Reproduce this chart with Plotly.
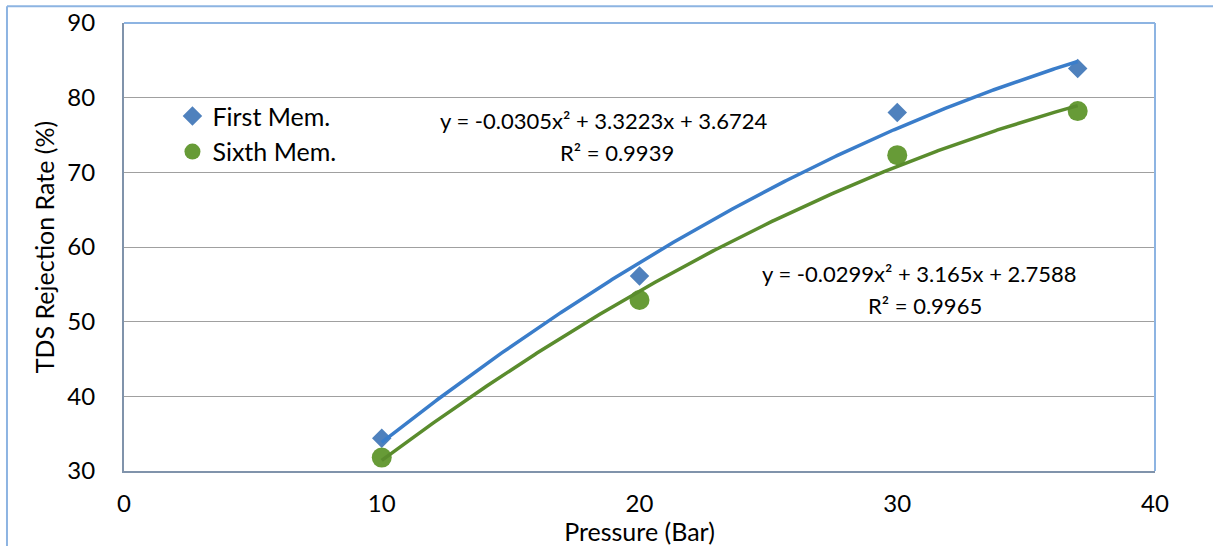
import numpy as np
import plotly.graph_objects as go

# Measured TDS rejection at each operating pressure
pressure = [10, 20, 30, 37]
first_mem = [34.4, 56.1, 78.0, 83.9]
sixth_mem = [31.8, 52.9, 72.3, 78.2]

# Second-order polynomial trendline coefficients (a*x^2 + b*x + c)
first_coef = [-0.0305, 3.3223, 3.6724]
first_r2 = 0.9939
sixth_coef = [-0.0299, 3.165, 2.7588]
sixth_r2 = 0.9965

series_names = ["First Mem.", "Sixth Mem."]
x_ticks = [0, 10, 20, 30, 40]
y_ticks = [30, 40, 50, 60, 70, 80, 90]

FONT = "Lato"
FS_TITLE = 25
FS_TICK = 24
FS_EQ = 22
BLUE_MARK = "#4F81BD"
BLUE_LINE = "#3A7DCA"
GREEN_MARK = "#679B37"
GREEN_LINE = "#5A8C2D"
FRAME = "#8DB4E2"
AXIS = "#8093AB"
GRID = "#A0A0A0"


def equation(coef):
    a, b, c = coef
    return f"y = {a:g}x² + {b:g}x + {c:g}"


xs = np.linspace(min(pressure), max(pressure), 400)

fig = go.Figure()

fig.add_trace(go.Scatter(
    x=pressure, y=first_mem, mode="markers", name=series_names[0],
    marker=dict(symbol="diamond", size=15, color=BLUE_MARK),
))
fig.add_trace(go.Scatter(
    x=pressure, y=sixth_mem, mode="markers", name=series_names[1],
    marker=dict(symbol="circle", size=20, color=GREEN_MARK),
))
fig.add_trace(go.Scatter(
    x=xs, y=np.polyval(first_coef, xs), mode="lines", showlegend=False,
    line=dict(color=BLUE_LINE, width=3.5), hoverinfo="skip",
))
fig.add_trace(go.Scatter(
    x=xs, y=np.polyval(sixth_coef, xs), mode="lines", showlegend=False,
    line=dict(color=GREEN_LINE, width=3.5), hoverinfo="skip",
))

annot_font = dict(family=FONT, size=FS_EQ, color="#000000")
annotations = [
    dict(x=0.4656, y=0.7828, text=equation(first_coef)),
    dict(x=0.478, y=0.7114, text=f"R² = {first_r2}"),
    dict(x=0.772, y=0.441, text=equation(sixth_coef)),
    dict(x=0.777, y=0.369, text=f"R² = {sixth_r2}"),
]
for a in annotations:
    a.update(xref="paper", yref="paper", xanchor="center", yanchor="middle",
             showarrow=False, font=annot_font)

shapes = [
    # plot-area frame (top and right edges)
    dict(type="line", xref="paper", yref="paper", x0=0, x1=1, y0=1, y1=1,
         line=dict(color=FRAME, width=2)),
    dict(type="line", xref="paper", yref="paper", x0=1, x1=1, y0=0, y1=1,
         line=dict(color=FRAME, width=2)),
    # chart-area border
    dict(type="line", xref="paper", yref="paper", x0=-0.1135, x1=1.1, y0=1.0373, y1=1.0373,
         line=dict(color=FRAME, width=2)),
    dict(type="line", xref="paper", yref="paper", x0=-0.1135, x1=-0.1135, y0=-0.3, y1=1.0373,
         line=dict(color=FRAME, width=2)),
]

fig.update_layout(
    width=1213, height=546,
    margin=dict(l=124, r=58, t=23, b=75),
    paper_bgcolor="white", plot_bgcolor="white",
    font=dict(family=FONT, size=FS_TICK, color="#000000"),
    showlegend=True,
    legend=dict(x=0.047, y=0.843, xanchor="left", yanchor="top",
                bgcolor="rgba(0,0,0,0)", font=dict(family=FONT, size=FS_TITLE)),
    annotations=annotations,
    shapes=shapes,
    xaxis=dict(
        range=[0, 40], tickvals=x_ticks, showgrid=False, zeroline=False,
        showline=True, linecolor=AXIS, linewidth=2, ticks="",
        ticklabelstandoff=10, automargin=False,
        tickfont=dict(family=FONT, size=FS_TICK),
        title=dict(text="Pressure (Bar)", standoff=3, font=dict(family=FONT, size=FS_TITLE)),
    ),
    yaxis=dict(
        range=[30, 90], tickvals=y_ticks, showgrid=True, gridcolor=GRID, gridwidth=1,
        zeroline=False, showline=True, linecolor=AXIS, linewidth=2, ticks="",
        ticklabelstandoff=22, automargin=False,
        tickfont=dict(family=FONT, size=FS_TICK),
        title=dict(text="TDS Rejection Rate (%)", standoff=6, font=dict(family=FONT, size=FS_TITLE)),
    ),
)

fig.write_html("out.html")
